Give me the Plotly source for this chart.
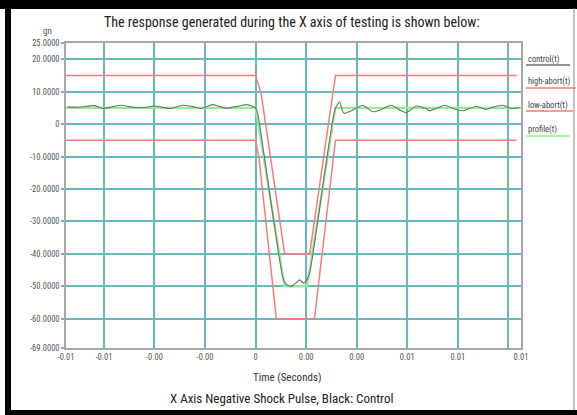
import numpy as np
import plotly.graph_objects as go

# ---------------- data ----------------
# time in milliseconds, acceleration in gn
profile_ms = [-7.5, 0.0, 1.15, 2.03, 3.16, 10.5]
profile_gn = [5, 5, -50, -50, 5, 5]

high_ms = [-7.5, 0.0, 0.22, 1.15, 2.14, 3.16, 10.33]
high_gn = [15, 15, 9.4, -40, -40, 15, 15]

low_ms = [-7.5, 0.0, 0.13, 0.82, 2.33, 3.16, 10.33]
low_gn = [-5, -5, -10, -60, -60, -5, -5]

control_ms = [-7.44, -6.96, -6.37, -6.05, -5.70, -5.30, -4.87, -4.39, -4.00, -3.68,
              -3.40, -2.89, -2.49, -2.14, -1.70, -1.42, -1.15, -0.63, -0.36, -0.12,
              0.0, 0.09, 1.07, 1.23, 1.42, 1.58, 1.74, 1.90, 2.02, 2.14,
              3.13, 3.32, 3.45, 3.52, 3.79, 4.24, 4.64, 4.91, 5.37, 5.76,
              5.96, 6.36, 6.75, 6.88, 7.48, 7.94, 8.20, 8.73, 9.13, 9.39,
              9.78, 10.12, 10.44]
control_gn = [5.3, 5.2, 5.7, 4.8, 5.3, 5.8, 5.2, 5.1, 5.6, 5.2,
              4.8, 5.8, 5.4, 4.8, 6.0, 5.4, 4.9, 5.6, 6.0, 5.5,
              5.0, 3.0, -47, -49.5, -50, -49, -48, -49, -48, -46,
              4.3, 6.9, 3.8, 3.3, 4.1, 5.8, 3.8, 4.3, 5.8, 4.1,
              3.5, 5.6, 4.8, 4.1, 5.8, 4.5, 4.1, 5.5, 4.5, 5.2,
              5.8, 4.8, 5.1]

series_names = ["control(t)", "high-abort(t)", "low-abort(t)", "profile(t)"]

y_tickvals = [25, 20, 10, 0, -10, -20, -30, -40, -50, -60, -69]
y_ticktext = ["25.0000", "20.0000", "10.0000", "0", "-10.0000", "-20.0000",
              "-30.0000", "-40.0000", "-50.0000", "-60.0000", "-69.0000"]
x_tickvals = [-0.0075, -0.006, -0.004, -0.002, 0.0, 0.002, 0.004, 0.006, 0.008, 0.0105]
x_ticktext = ["-0.01", "-0.01", "-0.00", "-0.00", "0", "0.00", "0.00", "0.01", "0.01", "0.01"]

title_text = "The response generated during the X axis of testing is shown below:"
xaxis_title = "Time (Seconds)"
caption = "X Axis Negative Shock Pulse, Black: Control"
y_unit = "gn"

# ---------------- styling ----------------
W, H = 577, 415
L, R, T, B = 66, 56, 43, 67
PW, PH = W - L - R, H - T - B

def px(xp):
    return (xp - L) / PW

def py(yp):
    return (H - B - yp) / PH

FONT = "Liberation Sans Narrow, Roboto Condensed, Arial Narrow, Liberation Sans, sans-serif"
RED = "#ff7a7a"
GREEN = "#90f090"
CTRL = "#707070"
GRID = "#66baba"

def sec(ms):
    return np.array(ms) / 1000.0

fig = go.Figure()
fig.add_trace(go.Scatter(x=sec(high_ms), y=high_gn, mode="lines",
                         line=dict(color=RED, width=1.5), name=series_names[1]))
fig.add_trace(go.Scatter(x=sec(low_ms), y=low_gn, mode="lines",
                         line=dict(color=RED, width=1.5), name=series_names[2]))
fig.add_trace(go.Scatter(x=sec(profile_ms), y=profile_gn, mode="lines",
                         line=dict(color=GREEN, width=2.2), name=series_names[3]))
fig.add_trace(go.Scatter(x=sec(control_ms), y=control_gn, mode="lines",
                         line=dict(color=CTRL, width=1.1, shape="spline", smoothing=0.5),
                         name=series_names[0]))

fig.update_layout(
    width=W, height=H,
    margin=dict(l=L, r=R, t=T, b=B),
    paper_bgcolor="white", plot_bgcolor="white",
    showlegend=False,
    font=dict(family=FONT, color="#444444", size=9),
)
fig.update_xaxes(
    range=[-0.0075, 0.0105],
    tickvals=x_tickvals, ticktext=x_ticktext,
    showgrid=False, zeroline=False,
    showline=True, linecolor="#a8a8a8", linewidth=1.5, mirror=True,
    ticks="", tickfont=dict(size=8.5, color="#555555"),
    minor=dict(tick0=0, dtick=0.002, showgrid=True, gridcolor=GRID, gridwidth=1.5, ticks=""),
)
fig.update_yaxes(
    range=[-69, 25],
    tickvals=y_tickvals, ticktext=y_ticktext,
    showgrid=True, gridcolor=GRID, gridwidth=1.5, zeroline=False,
    showline=True, linecolor="#a8a8a8", linewidth=1.5, mirror=True,
    ticks="outside", ticklen=3, tickcolor=GRID, tickwidth=1.5,
    tickfont=dict(size=8.5, color="#555555"),
)

ann = []
ann.append(dict(text=title_text, x=px(292), y=py(22), xref="paper", yref="paper",
                showarrow=False, font=dict(size=14, color="#222222"), xanchor="center", yanchor="middle"))
ann.append(dict(text=y_unit, x=px(47), y=py(31), xref="paper", yref="paper",
                showarrow=False, font=dict(size=9, color="#555555"), xanchor="center", yanchor="middle"))
ann.append(dict(text=xaxis_title, x=px(287), y=py(377), xref="paper", yref="paper",
                showarrow=False, font=dict(size=11, color="#333333"), xanchor="center", yanchor="middle"))
ann.append(dict(text=caption, x=px(281), y=py(398), xref="paper", yref="paper",
                showarrow=False, font=dict(size=13, color="#222222"), xanchor="center", yanchor="middle"))

shapes = []
leg_colors = [CTRL, RED, RED, GREEN]
leg_text_y = [59, 82, 105, 129]
leg_line_y = [65, 88, 111, 136]
leg_line_end = [570, 576, 573, 570]
for name, c, ty, ly, le in zip(series_names, leg_colors, leg_text_y, leg_line_y, leg_line_end):
    ann.append(dict(text=name, x=px(526), y=py(ty), xref="paper", yref="paper",
                    showarrow=False, font=dict(size=8.5, color="#444444"),
                    xanchor="left", yanchor="middle"))
    shapes.append(dict(type="line", xref="paper", yref="paper",
                       x0=px(526), x1=px(le), y0=py(ly), y1=py(ly),
                       line=dict(color=c, width=1.5)))

# outer black frame
def band(x0, y0, x1, y1, color, width):
    return dict(type="line", xref="paper", yref="paper", layer="above",
                x0=px(x0), x1=px(x1), y0=py(y0), y1=py(y1),
                line=dict(color=color, width=width))

shapes.append(band(0, 4.5, 577, 4.5, "black", 9))
shapes.append(band(8, 0, 8, 415, "black", 6))
shapes.append(band(5, 412.5, 577, 412.5, "black", 5))
shapes.append(band(574, 8, 574, 410, "#888888", 1))

fig.update_layout(annotations=ann, shapes=shapes)

frame_js = (
    "document.body.style.margin='0';document.body.style.overflow='hidden';"
    "var d=document.createElement('div');"
    "d.style.cssText='position:fixed;left:0;top:0;width:577px;height:8px;background:#000;z-index:1000;';"
    "document.body.appendChild(d);"
)
fig.write_html("out.html", config={"displayModeBar": False}, post_script=frame_js)
